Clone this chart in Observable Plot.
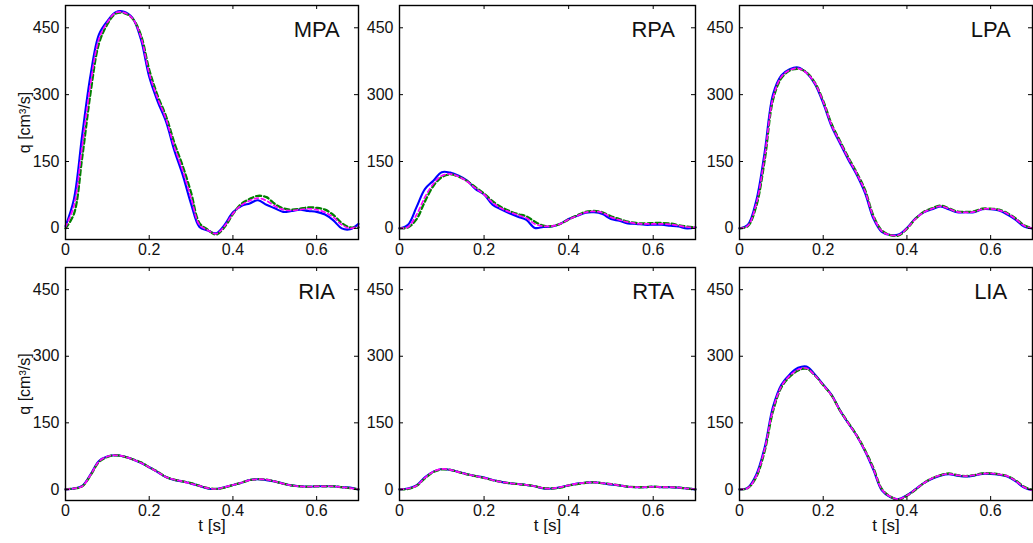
<!DOCTYPE html>
<html><head><meta charset="utf-8">
<script src="https://cdn.jsdelivr.net/npm/d3@7"></script>
<script src="https://cdn.jsdelivr.net/npm/@observablehq/plot@0.6"></script>
<style>
body{margin:0;background:#fff}
#chart{position:relative;width:1033px;height:543px;overflow:hidden;background:#fff}
#chart svg{position:absolute}
</style>
</head><body><div id="chart"></div>
<script>
const T = [0,0.02,0.04,0.06,0.08,0.1,0.12,0.14,0.16,0.18,0.2,0.22,0.24,0.26,0.28,0.3,0.32,0.34,0.36,0.38,0.4,0.42,0.44,0.46,0.48,0.5,0.52,0.54,0.56,0.58,0.6,0.62,0.64,0.66,0.68,0.7];
const panelNames = ["MPA","RPA","LPA","RIA","RTA","LIA"];

const MPA_blue    = [5,65,210,345,435,465,485,486,472,425,340,285,240,175,120,55,3,-5,-11,8,36,50,56,63,53,45,37,39,42,39,37,31,18,0,-2,10];
const MPA_magenta = [3,50,185,325,425,462,484,484,471,430,348,292,246,183,130,68,8,-4,-12,5,33,52,62,68,62,50,42,40,42,44,42,36,25,8,0,5];
const MPA_green   = [0,32,160,305,415,458,482,483,471,434,356,298,252,192,140,80,12,-3,-14,3,32,55,66,73,70,55,45,42,44,47,46,42,30,12,2,2];

const RPA_blue    = [0,8,47,88,107,126,125,118,107,88,76,53,43,34,26,19,1,3,4,10,21,28,35,36,32,21,17,11,10,8,8,8,6,4,0,2];
const RPA_magenta = [0,3,30,70,100,118,122,116,105,90,76,58,45,37,30,23,10,5,5,10,20,28,36,38,35,25,19,14,11,10,10,10,9,6,3,2];
const RPA_green   = [0,2,20,60,95,115,121,116,106,92,78,61,48,39,32,27,15,6,5,10,20,29,37,39,36,27,21,15,12,11,12,12,11,7,4,2];

const LPA_blue    = [0,8,62,170,300,343,357,361,349,324,281,229,191,154,120,79,22,-8,-15,-14,1,22,36,43,49,43,36,36,36,43,43,40,31,19,4,0];
const LPA_magenta = [0,6,55,160,292,340,355,359,349,326,284,232,194,157,123,83,26,-6,-15,-15,0,21,36,44,50,44,37,36,37,43,44,41,33,21,6,0];
const LPA_green   = [0,5,50,152,288,337,354,358,350,327,286,234,196,159,125,86,28,-5,-15,-16,-1,21,37,45,51,45,38,37,38,44,44,42,34,22,7,0];

const RIA_blue    = [0,2,8,34,64,74,77,74,68,60,50,39,28,21,18,13,8,2,1,5,10,15,21,23,21,18,13,9,7,6,7,7,7,5,4,0];
const RIA_magenta = [0,2,7,33,63,74,77,74,68,60,50,39,28,22,18,13,8,3,1,5,10,15,21,23,22,18,13,9,7,6,7,7,7,5,3,0];
const RIA_green   = [0,2,7,32,62,73,77,74,68,61,50,40,28,22,18,14,8,3,1,4,10,15,21,23,22,18,13,9,7,6,7,7,7,5,3,0];

const RTA_blue    = [0,2,9,27,40,46,44,39,34,30,27,21,17,14,12,10,7,2,2,5,9,13,15,16,14,11,9,6,5,5,6,5,5,4,2,0];
const RTA_magenta = [0,2,8,26,40,46,44,39,34,30,26,21,17,14,12,10,7,3,2,5,9,13,15,16,14,12,9,6,5,5,6,5,5,4,2,0];
const RTA_green   = [0,1,8,25,39,45,44,39,34,30,26,21,17,14,12,10,7,3,2,4,9,12,15,16,14,12,9,6,5,5,6,5,5,4,2,0];

const LIA_blue    = [0,4,33,94,186,236,259,274,277,259,236,213,178,149,121,86,44,-2,-17,-22,-13,0,14,24,31,34,31,29,31,35,35,33,29,18,4,-2];
const LIA_magenta = [0,3,30,90,180,232,256,270,273,257,235,212,178,149,121,87,46,0,-16,-22,-14,0,14,25,32,35,32,30,32,35,36,34,30,19,5,-2];
const LIA_green   = [0,3,28,86,176,230,254,268,272,257,235,212,178,150,122,88,48,1,-16,-23,-14,-1,14,25,32,36,32,30,32,36,36,34,30,20,6,-1];

const yTicks = [0,150,300,450];
const xTicks = [0,0.2,0.4,0.6];
const xTickLabels = ["0","0.2","0.4","0.6"];
const yLabel = "q [cm³/s]";
const xLabel = "t [s]";

const series = {
  MPA:[MPA_blue,MPA_magenta,MPA_green],
  RPA:[RPA_blue,RPA_magenta,RPA_green],
  LPA:[LPA_blue,LPA_magenta,LPA_green],
  RIA:[RIA_blue,RIA_magenta,RIA_green],
  RTA:[RTA_blue,RTA_magenta,RTA_green],
  LIA:[LIA_blue,LIA_magenta,LIA_green]
};

const cols = [{left:65,width:293},{left:399,width:296},{left:739,width:293}];
const rows = [{top:5,height:234},{top:267,height:233}];
const font = "'Liberation Sans', Arial, Helvetica, sans-serif";
const ink = "#111";
const fs = 16;
const chart = document.getElementById("chart");

panelNames.forEach((name, i) => {
  const c = i % 3, r = Math.floor(i / 3);
  const col = cols[c], row = rows[r];
  const mL = c === 0 ? 65 : 40, mR = 2, mT = 5, mB = 43;
  const w = col.width, h = row.height;
  const [b, m, g] = series[name];
  const data = T.map((t, k) => ({t, blue: b[k], magenta: m[k], green: g[k]}));
  const curve = "catmull-rom";
  const marks = [
    Plot.line(data, {x:"t", y:"blue", stroke:"#0000ff", strokeWidth:2.1, curve}),
    Plot.line(data, {x:"t", y:"green", stroke:"#008000", strokeWidth:2.3, strokeDasharray:"5,3", curve}),
    Plot.line(data, {x:"t", y:"magenta", stroke:"#ff00ff", strokeWidth:1.7, strokeDasharray:"4,3", curve}),
    Plot.frame({stroke:"#000", strokeWidth:1.4}),
    Plot.axisY(yTicks, {anchor:"left", tickSize:0, tickPadding:6, label:null, fontSize:fs, fill:ink}),
    Plot.axisX(xTicks, {anchor:"bottom", tickSize:0, tickPadding:4, label:null, fontSize:fs, fill:ink,
      tickFormat:(d) => xTickLabels[xTicks.indexOf(d)]}),
    Plot.tickY(yTicks, {y:d=>d, insetRight:w-4, stroke:"#000"}),
    Plot.tickY(yTicks, {y:d=>d, insetLeft:w-4, stroke:"#000"}),
    Plot.tickX(xTicks, {x:d=>d, insetTop:h-4, stroke:"#000"}),
    Plot.tickX(xTicks, {x:d=>d, insetBottom:h-4, stroke:"#000"}),
    Plot.text([name], {x:0.6, y:445, text:d=>d, fontSize:22, fill:ink})
  ];
  if (c === 0) marks.push(Plot.text([yLabel], {frameAnchor:"left", text:d=>d, rotate:-90, dx:-41, textAnchor:"middle", fontSize:fs, fill:ink}));
  if (r === 1) marks.push(Plot.text([xLabel], {frameAnchor:"bottom", text:d=>d, dy:30, textAnchor:"middle", fontSize:17, fill:ink}));
  const svg = Plot.plot({
    width: mL + w + mR, height: mT + h + mB,
    marginLeft:mL, marginRight:mR, marginTop:mT, marginBottom:mB,
    x:{domain:[0,0.7]}, y:{domain:[-25,500]},
    style:{fontFamily:font, fontSize:fs + "px", color:ink, background:"transparent", overflow:"visible"},
    marks
  });
  svg.style.left = (col.left - mL) + "px";
  svg.style.top = (row.top - mT) + "px";
  chart.appendChild(svg);
});
</script>
</body></html>
